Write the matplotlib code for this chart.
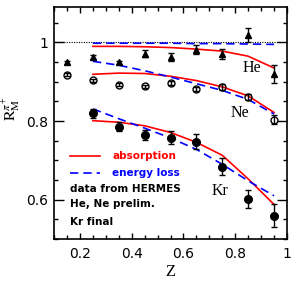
import matplotlib
matplotlib.use("Agg")
import matplotlib.pyplot as plt
from matplotlib.ticker import MultipleLocator, FormatStrFormatter

plt.rcParams["mathtext.fontset"] = "stix"

# measured points (HERMES)
z_he = [0.15, 0.25, 0.35, 0.45, 0.55, 0.65, 0.75, 0.85, 0.95]
r_he = [0.949, 0.963, 0.949, 0.971, 0.963, 0.982, 0.971, 1.019, 0.920]
e_he = [0.005, 0.005, 0.005, 0.009, 0.010, 0.011, 0.013, 0.019, 0.022]

z_ne = [0.15, 0.25, 0.35, 0.45, 0.55, 0.65, 0.75, 0.85, 0.95]
r_ne = [0.918, 0.904, 0.893, 0.889, 0.898, 0.881, 0.887, 0.862, 0.804]
e_ne = [0.004, 0.004, 0.004, 0.004, 0.005, 0.005, 0.007, 0.008, 0.012]

z_kr = [0.25, 0.35, 0.45, 0.55, 0.65, 0.75, 0.85, 0.95]
r_kr = [0.820, 0.786, 0.765, 0.758, 0.748, 0.684, 0.602, 0.559]
e_kr = [0.011, 0.011, 0.013, 0.017, 0.018, 0.021, 0.023, 0.029]

# model curves
z_mod = [0.25, 0.35, 0.45, 0.55, 0.65, 0.75, 0.85, 0.95]
he_abs = [0.990, 0.990, 0.989, 0.987, 0.983, 0.978, 0.965, 0.935]
he_eloss = [0.998, 0.998, 0.998, 0.998, 0.997, 0.997, 0.996, 0.995]
ne_abs = [0.919, 0.922, 0.921, 0.914, 0.903, 0.887, 0.864, 0.822]
ne_eloss = [0.952, 0.942, 0.928, 0.912, 0.895, 0.878, 0.855, 0.818]
kr_abs = [0.801, 0.797, 0.788, 0.771, 0.746, 0.713, 0.653, 0.588]
kr_eloss = [0.831, 0.806, 0.782, 0.757, 0.728, 0.690, 0.648, 0.610]

RED = "#ff0000"
BLUE = "#0000ff"

fig = plt.figure(figsize=(2.94, 2.94), dpi=100)
ax = fig.add_axes([0.184, 0.187, 0.792, 0.789])

ax.axhline(1.0, color="black", linestyle=(0, (1, 1.2)), linewidth=0.8, zorder=1)

for yv in (he_abs, ne_abs, kr_abs):
    ax.plot(z_mod, yv, color=RED, linewidth=1.2, zorder=2)
for yv in (he_eloss, ne_eloss, kr_eloss):
    ax.plot(z_mod, yv, color=BLUE, linewidth=1.2, linestyle=(0, (5, 3)), zorder=2)

eb = dict(ecolor="black", elinewidth=1.0, capsize=2, capthick=1.0, linestyle="none", zorder=3)
ax.errorbar(z_he, r_he, yerr=e_he, marker="^", ms=4.5, mfc="black", mec="black", **eb)
ax.errorbar(z_ne, r_ne, yerr=e_ne, marker="o", ms=5, mfc="none", mec="black", mew=1.0, **eb)
ax.errorbar(z_kr, r_kr, yerr=e_kr, marker="o", ms=5.5, mfc="black", mec="black", **eb)

serif = "Liberation Serif"
ax.text(0.863, 0.936, "He", fontsize=11.5, family=serif, ha="center", va="center")
ax.text(0.818, 0.821, "Ne", fontsize=11.5, family=serif, ha="center", va="center")
ax.text(0.743, 0.622, "Kr", fontsize=11.5, family=serif, ha="center", va="center")

# legend drawn by hand
ax.plot([0.162, 0.277], [0.710, 0.710], color=RED, linewidth=1.2)
ax.plot([0.162, 0.277], [0.669, 0.669], color=BLUE, linewidth=1.2, linestyle=(0, (5, 3)))
ax.text(0.324, 0.710, "absorption", color=RED, fontsize=7.5, fontweight="bold", va="center")
ax.text(0.324, 0.669, "energy loss", color=BLUE, fontsize=7.5, fontweight="bold", va="center")
ax.text(0.162, 0.628, "data from HERMES", fontsize=7.5, fontweight="bold", va="center")
ax.text(0.162, 0.589, "He, Ne prelim.", fontsize=7.5, fontweight="bold", va="center")
ax.text(0.162, 0.543, "Kr final", fontsize=7.5, fontweight="bold", va="center")

ax.set_xlim(0.1, 1.0)
ax.set_ylim(0.5, 1.09)
ax.xaxis.set_major_locator(MultipleLocator(0.2))
ax.xaxis.set_minor_locator(MultipleLocator(0.05))
ax.yaxis.set_major_locator(MultipleLocator(0.2))
ax.yaxis.set_minor_locator(MultipleLocator(0.05))
ax.xaxis.set_major_formatter(FormatStrFormatter("%g"))
ax.yaxis.set_major_formatter(FormatStrFormatter("%g"))
ax.tick_params(which="both", direction="in", top=True, right=True, labelsize=10, width=1.0)
ax.tick_params(axis="x", which="major", length=4.5, pad=6)
ax.tick_params(axis="y", which="major", length=7, pad=4)
ax.tick_params(which="minor", length=3)
for s in ax.spines.values():
    s.set_linewidth(1.2)

ax.set_xlabel("Z", fontsize=12, family=serif, labelpad=2)
ax.text(-0.18, 0.56, r"$\mathrm{R}_{\mathrm{M}}^{\pi^{+}}$", transform=ax.transAxes,
        rotation=90, fontsize=11.5, ha="center", va="center")

fig.savefig("out.png", dpi=100)
